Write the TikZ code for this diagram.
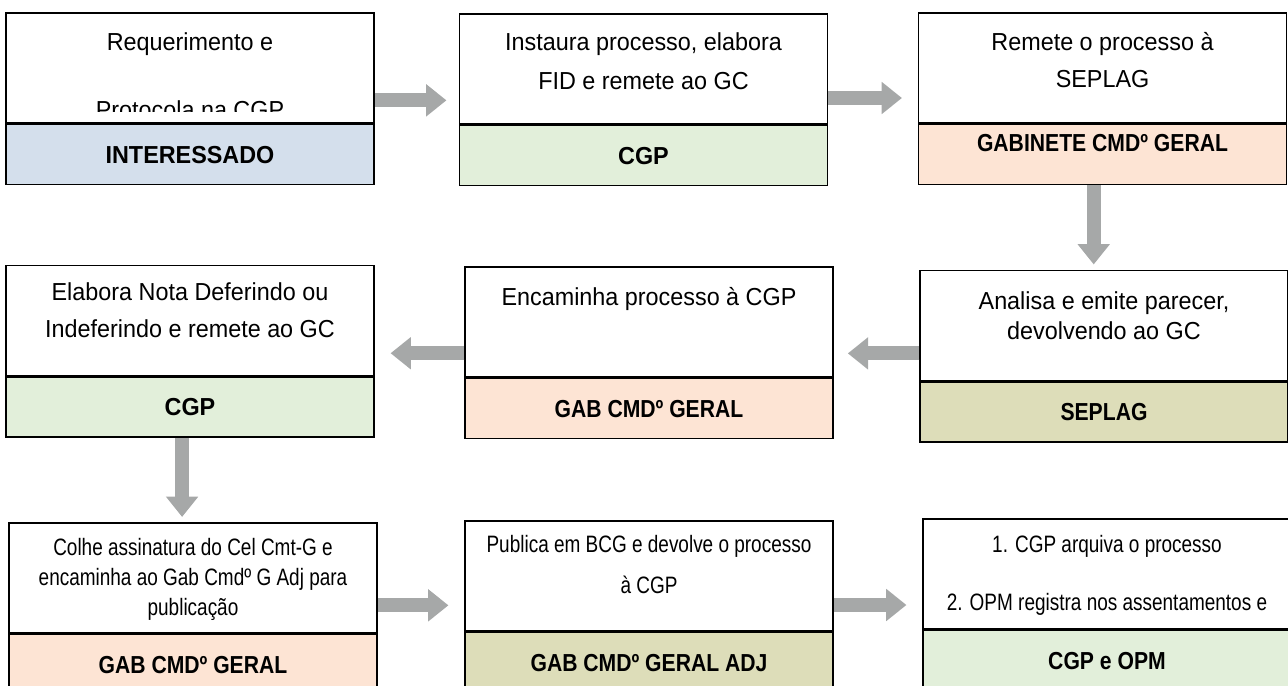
\documentclass[tikz,border=0pt]{standalone}
\usepackage{fontspec}
\setmainfont{Liberation Sans}[FakeStretch=0.95]
\newfontfamily\narrowsans{Liberation Sans}[FakeStretch=0.8]
\newfontfamily\tagsans{Liberation Sans}[FakeStretch=0.86]
\usepackage{tikz}
\usetikzlibrary{calc,arrows.meta,positioning}
\definecolor{tagblue}{RGB}{212,223,236}
\definecolor{taggreen}{RGB}{226,239,218}
\definecolor{tagpeach}{RGB}{253,228,212}
\definecolor{tagolive}{RGB}{221,221,185}
\definecolor{flowgray}{RGB}{166,168,168}
\tikzstyle{topbox}=[draw,line width=0.9pt,rectangle,minimum width=7.36cm,minimum height=2.2cm,inner sep=0pt]
\tikzstyle{tagbox}=[draw,line width=0.9pt,rectangle,minimum width=7.36cm,minimum height=1.2cm,inner sep=0pt,font=\fontsize{14}{16}\selectfont\bfseries]
\tikzstyle{narrowtag}=[tagbox,font=\tagsans\fontsize{14}{16}\selectfont\bfseries]
\tikzstyle{boxtext}=[align=center,inner sep=0pt,anchor=base,font=\fontsize{14}{21}\selectfont]
\tikzstyle{smalltext}=[boxtext,font=\narrowsans\fontsize{13.5}{16.8}\selectfont]
\tikzstyle{flow}=[line width=8pt,draw=flowgray,-{Triangle[length=11.5pt,width=17.6pt]},shorten >=9pt]

\begin{document}
\begin{tikzpicture}[x=0.02cm,y=-0.02cm]
\useasboundingbox (0,0) rectangle (1288,686);
\clip (0,0) rectangle (1288,686);
\draw (190,68) node [topbox] (t1) {};
\node [tagbox,fill=tagblue,below=0pt of t1] (l1) {INTERESSADO};
\draw (643.5,69) node [topbox] (t2) {};
\node [tagbox,fill=taggreen,below=0pt of t2] (l2) {CGP};
\draw (1102.5,68) node [topbox] (t3) {};
\node [narrowtag,fill=tagpeach,below=0pt of t3,text height=10pt,text depth=13.6pt] (l3) {GABINETE CMDº GERAL};
\draw (190,320.5) node [topbox] (t4) {};
\node [tagbox,fill=taggreen,below=0pt of t4] (l4) {CGP};
\draw (649,322) node [topbox] (t5) {};
\node [narrowtag,fill=tagpeach,below=0pt of t5] (l5) {GAB CMDº GERAL};
\draw (1104,325.5) node [topbox] (t6) {};
\node [narrowtag,fill=tagolive,below=0pt of t6] (l6) {SEPLAG};
\draw (193,578) node [topbox] (t7) {};
\node [narrowtag,fill=tagpeach,below=0pt of t7] (l7) {GAB CMDº GERAL};
\draw (649,576) node [topbox] (t8) {};
\node [narrowtag,fill=tagolive,below=0pt of t8] (l8) {GAB CMDº GERAL ADJ};
\draw (1107,574) node [topbox] (t9) {};
\node [narrowtag,fill=taggreen,below=0pt of t9] (l9) {CGP e OPM};

\draw (190,51) node [boxtext] (tx1) {Requerimento e};
\begin{scope}
\clip (6,13) rectangle (374,112);
\draw (190,118) node [boxtext] (tx1b) {Protocola na CGP};
\end{scope}
\draw (643.5,90) node [boxtext,font=\fontsize{14}{22.2}\selectfont] (tx2) {Instaura processo, elabora\\FID e remete ao GC};
\draw (1102.5,88) node [boxtext,font=\fontsize{14}{21.6}\selectfont] (tx3) {Remete o processo à\\SEPLAG};
\draw (190,337) node [boxtext] (tx4) {Elabora Nota Deferindo ou\\Indeferindo e remete ao GC};
\draw (649,305) node [boxtext] (tx5) {Encaminha processo à CGP};
\draw (1104,339) node [boxtext,font=\fontsize{14}{17}\selectfont] (tx6) {Analisa e emite parecer,\\devolvendo ao GC};
\draw (193,615) node [smalltext] (tx7) {Colhe assinatura do Cel Cmt-G e\\encaminha ao Gab Cmdº G Adj para\\publicação};
\draw (649,593) node [smalltext,font=\narrowsans\fontsize{13.5}{22.8}\selectfont] (tx8) {Publica em BCG e devolve o processo\\à CGP};
\draw (1107,610) node [smalltext,font=\narrowsans\fontsize{13.5}{33}\selectfont] (tx9) {1. CGP arquiva o processo\\2. OPM registra nos assentamentos e};

\coordinate (s1) at ($(t1.north east)!0.79!(t1.south east)$);
\coordinate (s2) at ($(t2.north east)!0.76!(t2.south east)$);
\coordinate (d3) at ([xshift=-5pt]l3.south);
\coordinate (s6) at ($(t6.north west)!0.75!(t6.south west)$);
\coordinate (s5) at ($(t5.north west)!0.78!(t5.south west)$);
\coordinate (d4) at ([xshift=-4.5pt]l4.south);
\coordinate (s7) at ($(t7.north east)!0.745!(t7.south east)$);
\coordinate (s8) at ($(t8.north east)!0.76!(t8.south east)$);
\draw[flow,shorten >=7pt] (s1) -- (s1 -| t2.west);
\draw[flow] (s2) -- (s2 -| t3.west);
\draw[flow,shorten >=3pt] (d3) -- (d3 |- t6.north);
\draw[flow,shorten >=8pt] (s6) -- (s6 -| t5.east);
\draw[flow] (s5) -- (s5 -| t4.east);
\draw[flow,shorten >=3pt] (d4) -- (d4 |- t7.north);
\draw[flow] (s7) -- (s7 -| t8.west);
\draw[flow] (s8) -- (s8 -| t9.west);
\end{tikzpicture}
\end{document}
